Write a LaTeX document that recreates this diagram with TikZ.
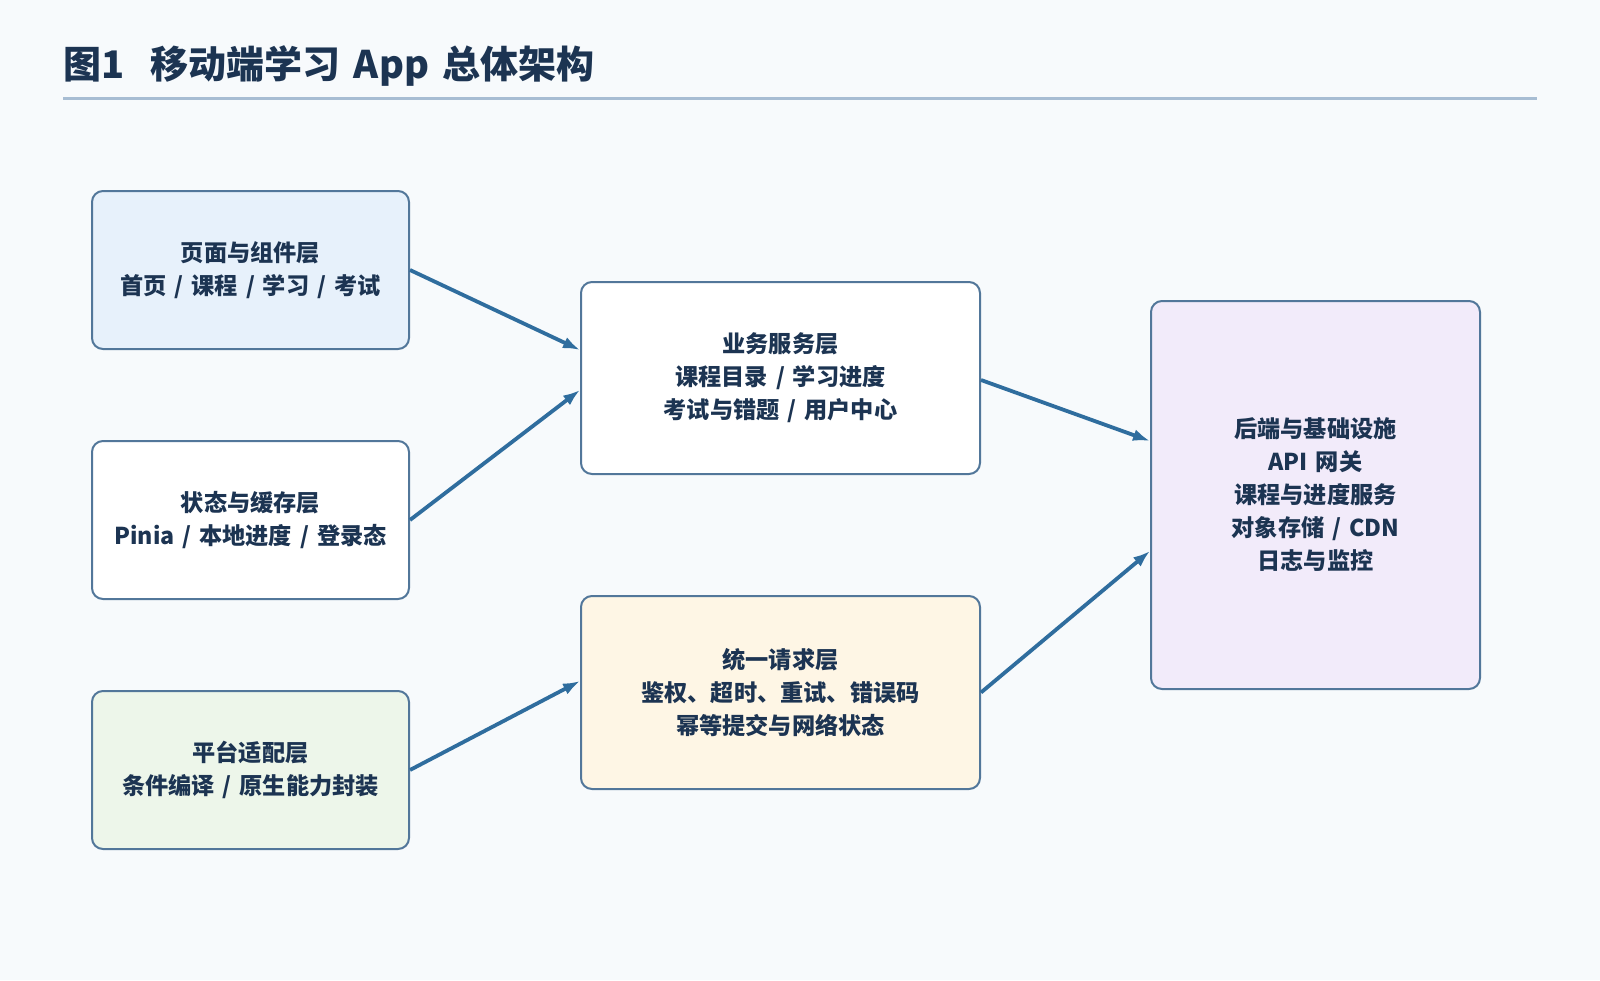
\documentclass[tikz,border=0pt]{standalone}
\usepackage{fontspec}
\setmainfont{Noto Sans CJK SC}[WordSpace=1.5]
\usetikzlibrary{arrows.meta}
\definecolor{bg}{HTML}{F7FAFC}
\definecolor{edge}{HTML}{52779A}
\definecolor{arrowc}{HTML}{2F6D9E}
\definecolor{txt}{HTML}{1C3452}
\definecolor{rule}{HTML}{A7BDD3}
\definecolor{fblue}{HTML}{E7F1FB}
\definecolor{fgreen}{HTML}{EDF6EA}
\definecolor{fcream}{HTML}{FEF6E5}
\definecolor{flav}{HTML}{F2EBFA}
\tikzset{
  layerbox/.style={draw=edge, line width=2pt, rounded corners=11pt, align=center,
    text=txt, font=\fontsize{23.2pt}{33pt}\selectfont\bfseries, inner sep=0pt},
  flow/.style={draw=arrowc, line width=3.8pt, -{Latex[length=17pt,width=12pt]}}
}
\begin{document}
\begin{tikzpicture}[x=1pt,y=-1pt]
\path[fill=bg] (0,0) rectangle (1600,980);
\useasboundingbox (0,0) rectangle (1600,980);
\node[anchor=west, text=txt, font=\fontsize{38pt}{44pt}\selectfont\bfseries, inner sep=0pt] (title) at (63,66) {图1\hspace{0.7em}移动端学习 App 总体架构};
\draw[rule, line width=3pt] (63,98) coordinate (rl) -- (1537,98) coordinate (rr);

\node[layerbox, fill=fblue, minimum width=317pt, minimum height=158pt] (p1) at (250.5,270) {页面与组件层\\首页 / 课程 / 学习 / 考试};
\node[layerbox, fill=white, minimum width=317pt, minimum height=158pt] (p2) at (250.5,520) {状态与缓存层\\Pinia / 本地进度 / 登录态};
\node[layerbox, fill=fgreen, minimum width=317pt, minimum height=158pt] (p3) at (250.5,770) {平台适配层\\条件编译 / 原生能力封装};
\node[layerbox, fill=white, minimum width=399pt, minimum height=192pt] (sa) at (780.5,378) {业务服务层\\课程目录 / 学习进度\\考试与错题 / 用户中心};
\node[layerbox, fill=fcream, minimum width=399pt, minimum height=193pt] (sb) at (780.5,692.5) {统一请求层\\鉴权、超时、重试、错误码\\幂等提交与网络状态};
\node[layerbox, fill=flav, minimum width=329pt, minimum height=388pt] (rb) at (1315.5,495) {后端与基础设施\\API 网关\\课程与进度服务\\对象存储 / CDN\\日志与监控};

\draw[flow] (p1.east) -- ([yshift=28pt]sa.west);
\draw[flow] (p2.east) -- ([yshift=-12pt]sa.west);
\draw[flow] (p3.east) -- ([yshift=11.5pt]sb.west);
\draw[flow] ([yshift=-2pt]sa.east) -- ([yshift=54pt]rb.west);
\draw[flow] (sb.east) -- ([yshift=-56pt]rb.west);
\end{tikzpicture}
\end{document}
